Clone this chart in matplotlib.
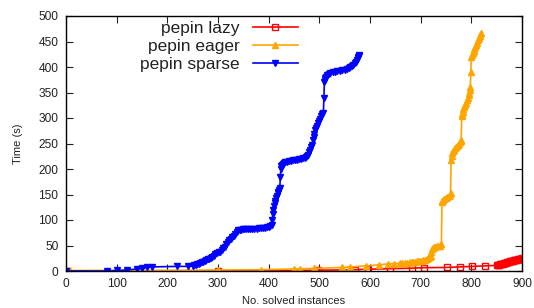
import matplotlib
matplotlib.use("Agg")
import matplotlib.pyplot as plt

plt.rcParams['font.family'] = ['Liberation Sans', 'DejaVu Sans']

lazy_x = [0, 300, 497, 570, 597, 640, 682, 706, 751, 777, 801, 827,
          850, 852, 854, 856, 858, 860, 862, 864, 866, 868, 870, 872, 874, 876,
          878, 880, 882, 884, 886, 888, 890, 892, 894, 896, 898, 900]
lazy_y = [0, 0, 1.5, 2.5, 3.5, 4.5, 5.5, 6.5, 7, 8, 9, 10,
          11, 11.5, 12, 13, 13.5, 14, 14.5, 15, 15.5, 16.5, 17, 17.5, 18, 19,
          19.5, 20, 20.5, 21, 21.5, 22, 22.5, 23, 23.5, 24, 24.5, 25]

eager_x = [0, 8, 240, 300, 385, 450, 462, 490, 545, 560, 593, 617, 636, 648,
           659, 664, 669, 674, 678, 682, 685, 688, 692, 695, 699, 702, 705, 708,
           712, 715, 718, 720, 721, 722, 724, 726, 729, 732, 735, 738, 741,
           742, 743, 745, 747, 750, 752, 755, 757, 759,
           760, 761, 762, 764, 765, 767, 769, 771, 773, 775, 777, 779, 780,
           781, 782, 783, 784, 785, 787, 789, 791, 793, 795, 796, 797, 798,
           799, 800, 802, 803, 805, 806, 808, 810, 812, 814, 815, 817, 818, 820]
eager_y = [0, 1, 1.5, 2, 2.5, 4, 4.5, 5, 7, 8, 10, 12, 14, 14.5,
           15, 15.5, 16, 16.5, 17, 17.5, 18, 18.5, 19, 19.5, 20, 20.5, 21, 22,
           23, 25, 27, 30, 38, 44, 46, 47, 48, 49, 49.5, 50, 52,
           136, 138, 140, 142, 144, 145, 147, 149, 152,
           218, 226, 232, 235, 238, 241, 243, 246, 248, 250, 252, 255, 257,
           303, 308, 312, 317, 322, 326, 330, 335, 340, 345, 350, 355, 361,
           390, 420, 424, 428, 432, 436, 440, 444, 448, 452, 456, 460, 463, 466]

sparse_x = [0, 80, 100, 120, 140, 150, 160, 170, 220, 240,
            250, 253, 256, 259, 262, 265, 268, 271, 274, 277, 280, 283, 286, 289,
            292, 295, 298, 301, 304, 307, 310, 313, 316, 319, 322, 325, 328, 331,
            334, 337, 340, 343, 346, 349, 352, 356, 360, 364, 368, 372, 376, 380,
            384, 388, 392, 396, 400, 403, 406,
            407, 408, 409, 410, 412, 413, 415, 416, 418, 419, 421, 422,
            423, 424, 425, 426, 428, 430, 433, 436, 440, 444, 448, 452, 456, 460,
            464, 468, 471, 474, 476, 478, 480, 482, 484, 486, 488, 489, 490, 492,
            494, 496, 498, 500, 502, 504, 506, 508,
            509, 510, 511, 512, 514, 516, 519, 522, 526, 530, 535, 540, 545, 550,
            554, 558, 561, 564, 567, 570, 572, 574, 576, 577, 578, 579]
sparse_y = [0, 0, 1, 2, 4, 5, 7, 8, 9, 9,
            10, 11, 12, 13, 14, 15.5, 17, 18.5, 20, 21.5, 23, 24.5, 26, 28,
            30, 32.5, 35, 36.5, 38, 41, 45, 48, 52, 56, 60, 63, 66, 69,
            72, 76, 80, 80.5, 81, 81.5, 82, 82, 82, 82, 82.5, 83, 83, 83.5,
            84, 84.5, 85, 86, 87, 88, 90,
            100, 112, 120, 128, 134, 138, 144, 148, 152, 155, 159, 162,
            185, 200, 205, 208, 210, 211, 213, 214, 215, 216, 217, 218, 218.5, 219,
            220, 221, 222, 224, 226, 228, 233, 238, 243, 248, 256, 262, 268, 276,
            281, 285, 290, 294, 299, 303, 307, 310,
            340, 370, 375, 378, 381, 384, 386, 388, 390, 391, 391.5, 392, 393.5, 395,
            396.5, 398, 399.5, 401, 404, 407, 410, 414, 418, 420, 422, 424]

labels = ["pepin lazy", "pepin eager", "pepin sparse"]
x_ticks = [0, 100, 200, 300, 400, 500, 600, 700, 800, 900]
y_ticks = [0, 50, 100, 150, 200, 250, 300, 350, 400, 450, 500]

fig = plt.figure(figsize=(5.34, 3.08), dpi=100)
ax = fig.add_axes([66/534, 1-271/308, 456/534, 255/308])

ax.plot(lazy_x, lazy_y, color='#ff0000', lw=1.2, marker='s', ms=3.8,
        mfc='none', mec='#ff0000', mew=1.0, label=labels[0])
ax.plot(eager_x, eager_y, color='#ffa500', lw=1.2, marker='^', ms=4.5,
        mec='#ffa500', mfc='#ffa500', label=labels[1])
ax.plot(sparse_x, sparse_y, color='#0000ff', lw=1.2, marker='v', ms=4.5,
        mec='#0000ff', mfc='#0000ff', label=labels[2])

ax.set_xlim(0, 900)
ax.set_ylim(0, 500)
ax.set_xticks(x_ticks)
ax.set_yticks(y_ticks)
ax.tick_params(direction='in', length=5, width=0.8, top=True, right=True,
               labelsize=8.6, colors='#222222')
ax.tick_params(axis='x', pad=5)
ax.tick_params(axis='y', pad=5.5)
for s in ax.spines.values():
    s.set_linewidth(1.0)
    s.set_color('black')

ax.set_xlabel("No. solved instances", fontsize=8, color='#222222', labelpad=4)
ax.set_ylabel("Time (s)", fontsize=8, color='#222222', labelpad=11)

leg = ax.legend(loc='upper right', bbox_to_anchor=((298-66)/456, 1-5/255),
                frameon=False, markerfirst=False, fontsize=12.5,
                handlelength=2.6, handletextpad=0.75, labelspacing=0.15,
                borderpad=0, borderaxespad=0)
for col in leg._legend_handle_box.get_children():
    col.align = "right"
for t in leg.get_texts():
    t.set_color('#222222')

fig.savefig("out.png", dpi=100)
